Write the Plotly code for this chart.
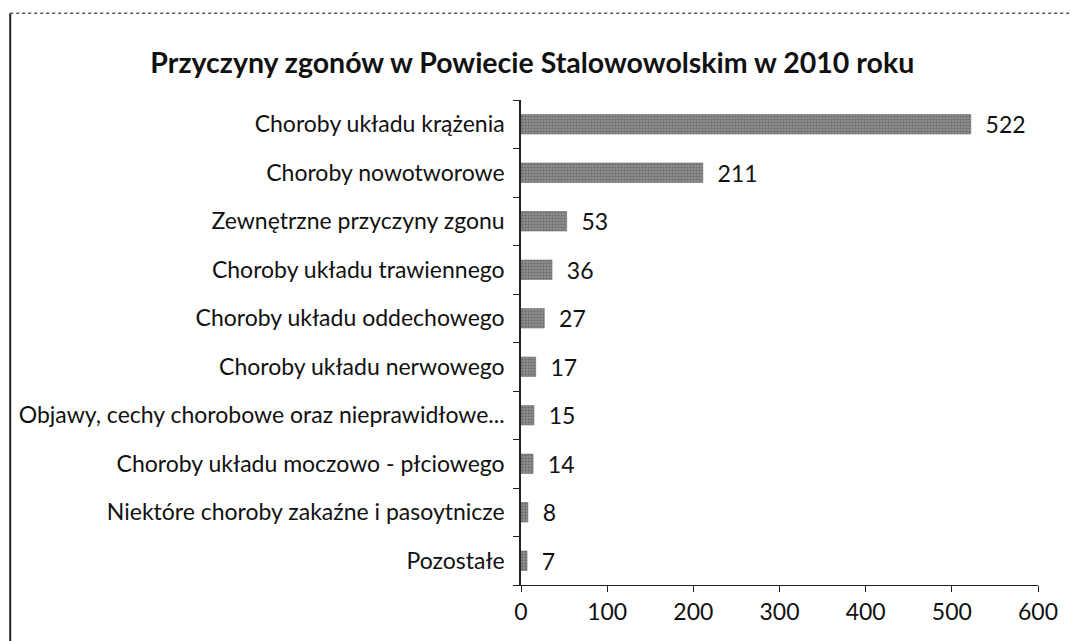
import plotly.graph_objects as go

categories = [
    "Choroby układu krążenia",
    "Choroby nowotworowe",
    "Zewnętrzne przyczyny zgonu",
    "Choroby układu trawiennego",
    "Choroby układu oddechowego",
    "Choroby układu nerwowego",
    "Objawy, cechy chorobowe oraz nieprawidłowe...",
    "Choroby układu moczowo - płciowego",
    "Niektóre choroby zakaźne i pasoytnicze",
    "Pozostałe",
]
values = [522, 211, 53, 36, 27, 17, 15, 14, 8, 7]
x_ticks = [0, 100, 200, 300, 400, 500, 600]
title = "Przyczyny zgonów w Powiecie Stalowowolskim w 2010 roku"

FONT = "Lato"
FS = 23

fig = go.Figure(
    go.Bar(
        x=values,
        y=categories,
        orientation="h",
        marker=dict(
            color="#8f8f8f",
            line=dict(color="#666666", width=0.6),
            pattern=dict(shape=".", fgcolor="#444444", size=3, solidity=0.4),
        ),
        text=values,
        texttemplate="  %{text}",
        textposition="outside",
        constraintext="none",
        textfont=dict(family=FONT, size=FS, color="#111"),
        cliponaxis=False,
        width=0.4,
    )
)

fig.update_layout(
    width=1071,
    height=641,
    margin=dict(l=521, r=33, t=100, b=56),
    paper_bgcolor="white",
    plot_bgcolor="white",
    showlegend=False,
    title=dict(
        text="<b>" + title + "</b>",
        x=0.497, xanchor="center", xref="container",
        y=0.902, yanchor="middle", yref="container",
        font=dict(family=FONT, size=28.5, color="#111"),
    ),
    font=dict(family=FONT, size=FS, color="#111"),
    shapes=[
        # left frame edge (solid)
        dict(type="line", xref="paper", yref="paper",
             x0=-0.988, x1=-0.988, y0=-0.3, y1=1.179,
             line=dict(color="#222", width=2)),
        # top frame edge (dotted)
        dict(type="line", xref="paper", yref="paper",
             x0=-0.988, x1=1.2, y0=1.179, y1=1.179,
             line=dict(color="#555", width=1.5, dash="dot")),
    ],
)

fig.update_xaxes(
    range=[0, 600],
    tickvals=x_ticks,
    ticks="outside", ticklen=6, tickcolor="#222",
    showline=True, linecolor="#222", linewidth=1,
    showgrid=False, zeroline=False, automargin=False,
    tickfont=dict(family=FONT, size=FS, color="#111"),
)
fig.update_yaxes(
    categoryorder="array",
    categoryarray=categories[::-1],
    ticks="outside", ticklen=6, tickcolor="#222",
    tickson="boundaries",
    showline=True, linecolor="#222", linewidth=1.5,
    showgrid=False, automargin=False,
    ticklabelstandoff=10,
    tickfont=dict(family=FONT, size=FS, color="#111"),
)

fig.write_html(
    "out.html",
    config={"displayModeBar": False},
    post_script="document.body.style.margin='0';document.body.style.overflow='hidden';",
)
